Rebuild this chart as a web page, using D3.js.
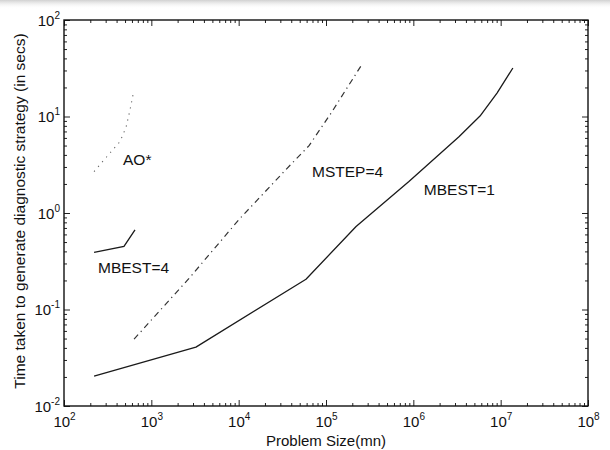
<!DOCTYPE html>
<html><head><meta charset="utf-8">
<script src="https://cdn.jsdelivr.net/npm/d3@7"></script>
<style>
body{margin:0;background:#fff;}
svg text{font-family:"Liberation Sans",Arial,Helvetica,sans-serif;fill:#111;}
</style></head>
<body><svg id="c" width="610" height="450"></svg>
<script>
// ---- data ----
const xTickExps = [2,3,4,5,6,7,8];
const yTickExps = [-2,-1,0,1,2];

const mbest1X = [221, 3240, 59000, 2.21e5, 8.9e5, 3.33e6, 5.8e6, 9.08e6, 1.38e7];
const mbest1Y = [0.0204, 0.0407, 0.206, 0.724, 2.12, 6.18, 10.1, 17.5, 31.8];

const mstep4X = [634, 2700, 10100, 34800, 64000, 1.17e5, 2.52e5];
const mstep4Y = [0.0493, 0.210, 0.857, 2.82, 4.99, 11.2, 33.5];

const aoX = [221, 337, 438, 513, 570, 617];
const aoY = [2.69, 4.2, 5.5, 7.7, 11.7, 16.8];

const mbest4X = [221, 486, 650];
const mbest4Y = [0.39, 0.45, 0.67];

const labels = [
  {text:"AO*", x:474, y:3.14},
  {text:"MBEST=4", x:245, y:0.239},
  {text:"MSTEP=4", x:69200, y:2.36},
  {text:"MBEST=1", x:1.32e6, y:1.54}
];

// ---- layout ----
const L=64, R=588, T=20, B=406;
const svg = d3.select("#c");

// faint scanner shadow at top
const defs = svg.append("defs");
const g1 = defs.append("linearGradient").attr("id","sh").attr("x1",0).attr("y1",0).attr("x2",0).attr("y2",1);
g1.append("stop").attr("offset","0%").attr("stop-color","#aaa").attr("stop-opacity",0.55);
g1.append("stop").attr("offset","100%").attr("stop-color","#fff").attr("stop-opacity",0);
svg.append("rect").attr("x",0).attr("y",0).attr("width",610).attr("height",9).attr("fill","url(#sh)");

const x = d3.scaleLog().domain([1e2,1e8]).range([L,R]);
const y = d3.scaleLog().domain([1e-2,1e2]).range([B,T]);

const majX = xTickExps.map(e=>Math.pow(10,e));
const majY = yTickExps.map(e=>Math.pow(10,e));
const minX = x.ticks().filter(v=>!majX.some(m=>Math.abs(m-v)/m<1e-9));
const minY = y.ticks().filter(v=>!majY.some(m=>Math.abs(m-v)/m<1e-9));

function styleAxis(g){
  g.select(".domain").remove();
  g.selectAll("line").attr("stroke","#222").attr("stroke-width",1);
}
// minor ticks on all four sides
svg.append("g").attr("transform",`translate(0,${B})`).call(d3.axisBottom(x).tickValues(minX).tickSize(-3).tickFormat("")).call(styleAxis);
svg.append("g").attr("transform",`translate(0,${T})`).call(d3.axisTop(x).tickValues(minX).tickSize(-3).tickFormat("")).call(styleAxis);
svg.append("g").attr("transform",`translate(${L},0)`).call(d3.axisLeft(y).tickValues(minY).tickSize(-3).tickFormat("")).call(styleAxis);
svg.append("g").attr("transform",`translate(${R},0)`).call(d3.axisRight(y).tickValues(minY).tickSize(-3).tickFormat("")).call(styleAxis);
// major ticks
svg.append("g").attr("transform",`translate(0,${T})`).call(d3.axisTop(x).tickValues(majX).tickSize(-6).tickFormat("")).call(styleAxis);
svg.append("g").attr("transform",`translate(${R},0)`).call(d3.axisRight(y).tickValues(majY).tickSize(-6).tickFormat("")).call(styleAxis);

const fmtExp = v => String(Math.round(Math.log10(v)));
const gx = svg.append("g").attr("transform",`translate(0,${B})`)
  .call(d3.axisBottom(x).tickValues(majX).tickSize(-6).tickPadding(0).tickFormat(fmtExp)).call(styleAxis);
gx.selectAll(".tick text").each(function(){
  const e = d3.select(this).text();
  const t = d3.select(this).text(null).attr("y",21).attr("dy",0).attr("font-size",15).attr("text-anchor","middle");
  t.append("tspan").text("10");
  t.append("tspan").attr("font-size",10).attr("dy",-7).text(e);
});
const gy = svg.append("g").attr("transform",`translate(${L},0)`)
  .call(d3.axisLeft(y).tickValues(majY).tickSize(-6).tickPadding(0).tickFormat(fmtExp)).call(styleAxis);
gy.selectAll(".tick text").each(function(){
  const e = d3.select(this).text();
  const t = d3.select(this).text(null).attr("x",-4).attr("dy",5).attr("font-size",15).attr("text-anchor","end");
  t.append("tspan").text("10");
  t.append("tspan").attr("font-size",10).attr("dy",-7).text(e);
});

// frame
svg.append("rect").attr("x",L).attr("y",T).attr("width",R-L).attr("height",B-T)
  .attr("fill","none").attr("stroke","#111").attr("stroke-width",1.4);

// series
const line = d3.line().x(d=>x(d[0])).y(d=>y(d[1]));
const zip = (a,b)=>a.map((v,i)=>[v,b[i]]);
svg.append("path").datum(zip(mbest1X,mbest1Y)).attr("d",line)
  .attr("fill","none").attr("stroke","#1a1a1a").attr("stroke-width",1.3).attr("stroke-linejoin","round");
svg.append("path").datum(zip(mbest4X,mbest4Y)).attr("d",line)
  .attr("fill","none").attr("stroke","#1a1a1a").attr("stroke-width",1.3);
svg.append("path").datum(zip(mstep4X,mstep4Y)).attr("d",line)
  .attr("fill","none").attr("stroke","#333").attr("stroke-width",1.2)
  .attr("stroke-dasharray","6,4,1.2,4");
svg.append("path").datum(zip(aoX,aoY)).attr("d",line)
  .attr("fill","none").attr("stroke","#666").attr("stroke-width",1.1)
  .attr("stroke-dasharray","1.2,5");

// annotations
svg.selectAll("text.lab").data(labels).join("text").attr("class","lab")
  .attr("x",d=>x(d.x)).attr("y",d=>y(d.y)).attr("font-size",15.5).text(d=>d.text);

// axis titles
svg.append("text").attr("x",(L+R)/2).attr("y",446).attr("text-anchor","middle")
  .attr("font-size",15).text("Problem Size(mn)");
svg.append("text").attr("transform","translate(25,211) rotate(-90)").attr("text-anchor","middle")
  .attr("font-size",15.5).text("Time taken to generate diagnostic strategy (in secs)");
</script></body></html>
